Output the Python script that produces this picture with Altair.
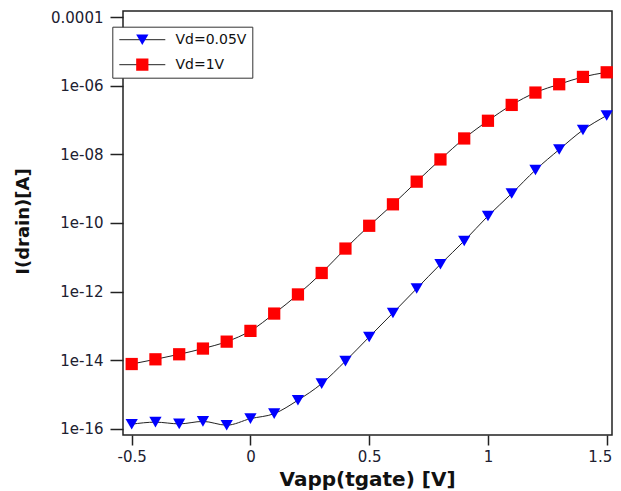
import math
import altair as alt
import pandas as pd

# ---- data ----
x_values = [-0.5, -0.4, -0.3, -0.2, -0.1, 0.0, 0.1, 0.2, 0.3, 0.4, 0.5,
            0.6, 0.7, 0.8, 0.9, 1.0, 1.1, 1.2, 1.3, 1.4, 1.5]
vd_005 = [1.38e-16, 1.58e-16, 1.41e-16, 1.66e-16, 1.29e-16, 2.0e-16, 2.8e-16,
          6.9e-16, 2.1e-15, 9.5e-15, 4.8e-14, 2.4e-13, 1.23e-12, 6.3e-12,
          3.0e-11, 1.6e-10, 7.2e-10, 3.5e-09, 1.38e-08, 5.1e-08, 1.35e-07]
vd_1 = [7.8e-15, 1.07e-14, 1.5e-14, 2.2e-14, 3.5e-14, 7.2e-14, 2.3e-13,
        8.3e-13, 3.5e-12, 1.8e-11, 8.3e-11, 3.5e-10, 1.6e-09, 7.1e-09,
        2.9e-08, 9.5e-08, 2.75e-07, 6.3e-07, 1.1e-06, 1.8e-06, 2.45e-06]
series_names = ["Vd=0.05V", "Vd=1V"]
series_colors = ["#0000ff", "#ff0000"]
series_shapes = ["triangle-down", "square"]

x_tick_values = [-0.5, 0, 0.5, 1, 1.5]
x_tick_labels = ["-0.5", "0", "0.5", "1", "1.5"]
y_tick_values = [1e-16, 1e-14, 1e-12, 1e-10, 1e-08, 1e-06, 1e-04]
y_tick_labels = ["1e-16", "1e-14", "1e-12", "1e-10", "1e-08", "1e-06", "0.0001"]

rows = []
for name, vals in zip(series_names, [vd_005, vd_1]):
    for xv, iv in zip(x_values, vals):
        rows.append({"Vapp": xv, "I": iv, "series": name})
df = pd.DataFrame(rows)

# label expressions built from the tick label lists
x_expr = "''"
for v, lab in reversed(list(zip(x_tick_values, x_tick_labels))):
    x_expr = f"abs(datum.value - ({v})) < 1e-6 ? '{lab}' : " + x_expr
y_expr = "''"
for v, lab in reversed(list(zip(y_tick_values, y_tick_labels))):
    e = round(math.log10(v))
    y_expr = f"round(log(datum.value)/LN10) == {e} ? '{lab}' : " + y_expr

FONT = "DejaVu Sans"
LABEL_COLOR = "#202030"

x_enc = alt.X(
    "Vapp:Q",
    scale=alt.Scale(domain=[-0.5366, 1.5223], nice=False, zero=False),
    axis=alt.Axis(
        values=x_tick_values, labelExpr=x_expr, grid=False, domain=False,
        tickSize=10, tickWidth=1.5, tickColor="#222", labelPadding=4,
        labelFont=FONT, labelFontSize=15, labelColor=LABEL_COLOR,
        labelFlush=7, labelFlushOffset=5,
        title="Vapp(tgate) [V]", titleFont=FONT, titleFontSize=20,
        titleFontWeight="bold", titleColor="#111", titleX=244, titleY=44,
        titleBaseline="middle", titleAlign="center",
    ),
)
y_enc = alt.Y(
    "I:Q",
    scale=alt.Scale(type="log", domain=[6.68e-17, 1.496e-4], nice=False),
    axis=alt.Axis(
        values=y_tick_values, labelExpr=y_expr, grid=False, domain=False,
        tickSize=13, tickWidth=1.5, tickColor="#222", labelPadding=7,
        labelFont=FONT, labelFontSize=15, labelColor=LABEL_COLOR,
        title="I(drain)[A]", titleFont=FONT, titleFontSize=18,
        titleFontWeight="bold", titleColor="#111", titleAngle=270,
        titleX=-100, titleY=210, titleBaseline="middle", titleAlign="center",
    ),
)

LEG_X = -10.7
LEG_Y = 15.7

lines = alt.Chart(df).mark_line(strokeWidth=1, interpolate="monotone").encode(
    x=x_enc,
    y=y_enc,
    color=alt.Color(
        "series:N",
        scale=alt.Scale(domain=series_names, range=["#222222", "#222222"]),
        legend=alt.Legend(
            orient="none", legendX=LEG_X, legendY=LEG_Y, title=None,
            padding=5, symbolOffset=1.5, symbolType="stroke", symbolSize=2116,
            symbolStrokeWidth=1, clipHeight=16, rowPadding=9,
            labelFont=FONT, labelFontSize=14, labelColor="#111",
            labelOffset=9.7, fillColor="white", strokeColor="#333",
        ),
    ),
)

leg_pts = alt.Legend(
    orient="none", legendX=LEG_X, legendY=LEG_Y, title=None,
    padding=5, symbolOffset=18, symbolSize=150, symbolStrokeWidth=0,
    clipHeight=16, rowPadding=9, labelFont=FONT, labelFontSize=14,
    labelExpr="''", labelOffset=9.7,
)
points = alt.Chart(df).mark_point(filled=True, size=150, opacity=1, strokeWidth=0).encode(
    x=x_enc,
    y=y_enc,
    fill=alt.Fill("series:N", scale=alt.Scale(range=series_colors), legend=leg_pts),
    shape=alt.Shape("series:N", scale=alt.Scale(range=series_shapes), legend=leg_pts),
)

chart = alt.layer(lines, points).properties(
    width=489,
    height=424,
    autosize=alt.AutoSizeParams(type="none"),
    padding={"left": 115, "top": 3, "right": 1, "bottom": 56},
).configure_view(stroke="#222", strokeWidth=1.5)

chart.save("out.html", embed_options={"renderer": "svg", "actions": False})
